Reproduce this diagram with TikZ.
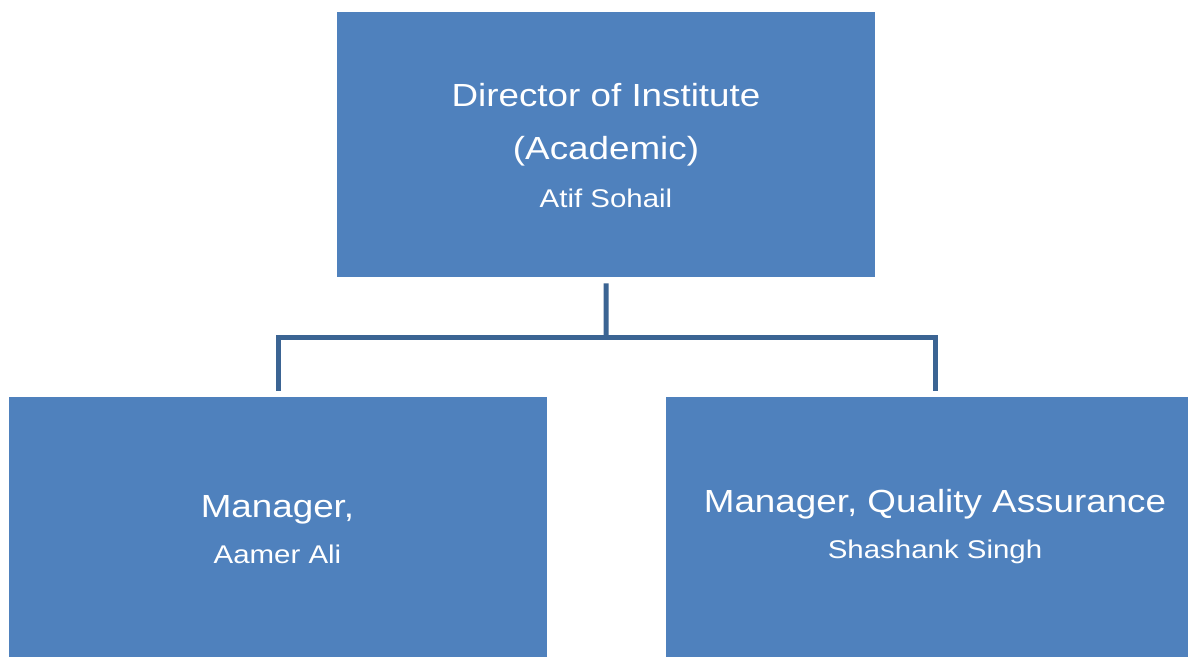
\documentclass[tikz,border=0pt]{standalone}
\usepackage{fontspec}
\setmainfont{Liberation Sans}[FakeStretch=1.15]
\definecolor{boxblue}{HTML}{4F81BD}
\definecolor{linkblue}{HTML}{3B6493}
\begin{document}
\begin{tikzpicture}[x=1pt,y=-1pt,
  orgbox/.style={fill=boxblue, draw=none, inner sep=0pt, minimum width=538pt,
                 minimum height=265pt, anchor=north west},
  roletext/.style={text=white, font=\fontsize{32}{38}\selectfont, anchor=base, inner sep=0pt},
  nametext/.style={text=white, font=\fontsize{25.6}{30}\selectfont, anchor=base, inner sep=0pt},
  link/.style={draw=linkblue, line width=5pt, line join=miter}]
\useasboundingbox (0,0) rectangle (1188,656);
\clip (0,0) rectangle (1188,656);

% boxes
\node[orgbox] (dir) at (337,12) {};
\node[orgbox, minimum height=280pt] (mgr) at (9,397) {};
\node[orgbox, minimum height=280pt] (qa) at (666,397) {};

% texts
\node[roletext] (dirrole) at (606,106) {Director of Institute};
\node[roletext] (dirrole2) at (606,159) {(Academic)};
\node[nametext] (dirname) at (606,207) {Atif Sohail};

\node[roletext] (mgrrole) at (277.5,517) {Manager,};
\node[nametext] (mgrname) at (277.5,563) {Aamer Ali};

\node[roletext] (qarole) at (935,512) {Manager, Quality Assurance};
\node[nametext] (qaname) at (935,558) {Shashank Singh};

% connectors
\coordinate (hub) at (606,337);
\draw[link] ([yshift=-6pt]dir.south) -- (hub);
\draw[link] ([yshift=6pt]mgr.north) |- (hub) -| ([yshift=6pt]qa.north);
\end{tikzpicture}
\end{document}
